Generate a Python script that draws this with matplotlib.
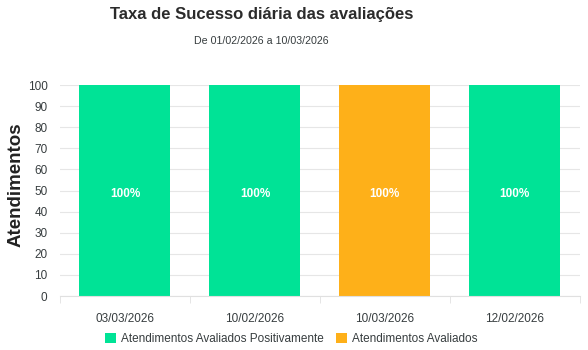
import numpy as np
import matplotlib.pyplot as plt
from matplotlib.patches import Patch

plt.rcParams['font.family'] = ['Liberation Sans', 'DejaVu Sans']

datas = ["03/03/2026", "10/02/2026", "10/03/2026", "12/02/2026"]
positivos = [100, 100, 0, 100]
avaliados = [0, 0, 100, 0]
rotulos = ["100%", "100%", "100%", "100%"]

verde = "#00E396"
laranja = "#FEB019"
cinza_txt = "#373d3f"

fig = plt.figure(figsize=(5.88, 3.5), dpi=100)
ax = fig.add_axes([0.102, 0.154, 0.884, 0.603])

x = np.arange(len(datas))
ax.bar(x, positivos, width=0.7, color=verde, zorder=2)
ax.bar(x, avaliados, width=0.7, bottom=positivos, color=laranja, zorder=2)

for i, lbl in enumerate(rotulos):
    ax.text(x[i], 48.5, lbl, ha="center", va="center", color="white",
            fontsize=8.5, fontweight="bold", zorder=3)

ax.set_xlim(-0.5, len(datas) - 0.5)
ax.set_ylim(0, 100)
ax.set_yticks(range(0, 101, 10))
ax.set_xticks(x)
ax.set_xticklabels(datas)
ax.set_xticks(np.arange(-0.5, len(datas)), minor=True)
ax.tick_params(axis="x", which="major", length=0, pad=12, labelsize=8.5, labelcolor=cinza_txt)
ax.tick_params(axis="x", which="minor", length=5, color="#e0e0e0")
ax.tick_params(axis="y", length=0, pad=9, labelsize=8.5, labelcolor=cinza_txt)
ax.grid(axis="y", color="#e6e6e6", linewidth=0.8, zorder=0)
for s in ["top", "right", "left"]:
    ax.spines[s].set_visible(False)
ax.spines["bottom"].set_color("#e0e0e0")

ax.set_ylabel("Atendimentos", fontsize=13.5, fontweight="bold", color="#222222")
ax.yaxis.set_label_coords(-0.068, 0.53)

fig.text(0.445, 0.958, "Taxa de Sucesso diária das avaliações", ha="center", va="center",
         fontsize=12, fontweight="bold", color="#2b2b2b")
fig.text(0.445, 0.883, "De 01/02/2026 a 10/03/2026", ha="center", va="center",
         fontsize=7.7, color=cinza_txt)

handles = [Patch(facecolor=verde, edgecolor="none", label="Atendimentos Avaliados Positivamente"),
           Patch(facecolor=laranja, edgecolor="none", label="Atendimentos Avaliados")]
fig.legend(handles=handles, loc="center", bbox_to_anchor=(0.495, 0.032), ncol=2, frameon=False,
           fontsize=8.5, handlelength=1.0, handleheight=1.0, handletextpad=0.4,
           columnspacing=1.0, labelcolor=cinza_txt)

fig.savefig("out.png", dpi=100)
